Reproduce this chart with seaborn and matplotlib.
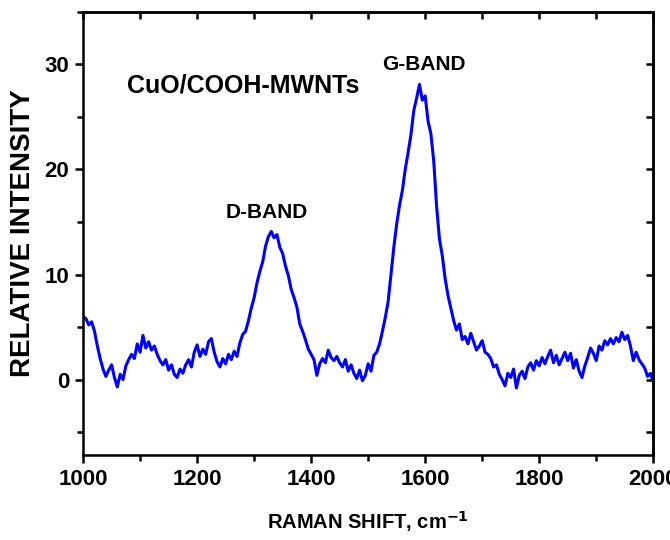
import numpy as np
import pandas as pd
import matplotlib
matplotlib.use("Agg")
import matplotlib.pyplot as plt
import seaborn as sns
from matplotlib.ticker import MultipleLocator

# Raman spectrum, every 5 cm-1 from 1000 to 2000
shift_start, shift_stop, shift_step = 1000, 2000, 5
intensity = [
    6.0, 5.8, 5.2, 5.5, 4.6, 3.2, 2.0, 1.0, 0.3, 0.9,      # 1000-1045
    1.4, 0.2, -0.7, 0.5, 0.0, 1.3, 1.9, 2.4, 2.0, 3.4,     # 1050-1095
    2.6, 4.2, 3.0, 3.6, 2.8, 3.2, 2.4, 1.8, 1.4, 1.9,      # 1100-1145
    0.9, 1.4, 0.5, 0.2, 1.0, 0.6, 1.4, 1.9, 1.2, 2.6,      # 1150-1195
    3.3, 2.2, 2.9, 2.4, 3.6, 3.9, 2.6, 1.7, 1.2, 2.0,      # 1200-1245
    1.5, 2.4, 1.9, 2.7, 2.2, 3.5, 4.3, 4.6, 5.6, 6.8,      # 1250-1295
    7.8, 9.2, 10.3, 11.2, 12.7, 13.6, 14.1, 13.5, 13.8, 12.6,  # 1300-1345
    12.0, 10.8, 9.9, 8.6, 7.8, 6.9, 5.3, 4.6, 3.8, 2.9,    # 1350-1395
    2.4, 1.9, 0.4, 1.5, 2.0, 1.6, 2.8, 2.1, 1.8, 2.2,      # 1400-1445
    1.6, 1.2, 1.9, 0.8, 1.4, 0.6, 0.1, 0.9, -0.1, 0.4,     # 1450-1495
    1.5, 0.8, 2.3, 2.6, 3.4, 4.6, 5.9, 7.4, 10.0, 12.6,    # 1500-1545
    14.8, 16.6, 18.0, 20.0, 21.6, 23.3, 25.6, 26.8, 28.1, 26.6,  # 1550-1595
    27.0, 24.6, 23.4, 20.8, 16.5, 13.4, 11.8, 9.6, 8.0, 6.8,     # 1600-1645
    5.6, 4.7, 5.3, 3.8, 4.1, 3.4, 4.4, 3.6, 2.8, 3.2,      # 1650-1695
    3.7, 2.6, 2.4, 2.0, 1.2, 1.4, 0.5, 0.0, -0.6, 0.6,     # 1700-1745
    0.2, 1.0, -0.8, 0.4, 0.8, 0.1, 1.2, 1.6, 0.9, 1.8,     # 1750-1795
    1.3, 2.1, 1.5, 2.2, 2.8, 1.6, 2.3, 1.4, 2.0, 2.6,      # 1800-1845
    1.8, 2.5, 1.1, 1.9, 0.8, 0.2, 1.3, 2.1, 3.0, 2.5,      # 1850-1895
    1.8, 3.2, 2.8, 3.7, 3.3, 3.9, 3.4, 4.0, 3.6, 4.5,      # 1900-1945
    3.8, 4.2, 3.2, 1.8, 2.6, 1.9, 1.5, 1.1, 0.3, 0.6,      # 1950-1995
    -0.2,                                                  # 2000
]
raman_shift = np.arange(shift_start, shift_stop + 1, shift_step)

x_ticks = [1000, 1200, 1400, 1600, 1800, 2000]
x_tick_labels = ["1000", "1200", "1400", "1600", "1800", "2000"]
y_ticks = [0, 10, 20, 30]

df = pd.DataFrame({"shift": raman_shift, "intensity": intensity})

sns.set_style("ticks")
plt.rcParams["font.family"] = ["Liberation Sans", "DejaVu Sans"]
plt.rcParams["font.weight"] = "bold"
plt.rcParams["text.color"] = "black"
plt.rcParams["xtick.color"] = "black"
plt.rcParams["ytick.color"] = "black"
plt.rcParams["axes.labelcolor"] = "black"
plt.rcParams["axes.edgecolor"] = "black"

fig = plt.figure(figsize=(6.7, 5.4), dpi=100)
ax = fig.add_axes([0.124, 0.157, 0.851, 0.821])

sns.lineplot(data=df, x="shift", y="intensity", ax=ax, color="#0000ff",
             linewidth=2.2)

ax.set_xlim(1000, 2000)
ax.set_ylim(-7.2, 35)
ax.set_xticks(x_ticks)
ax.set_xticklabels(x_tick_labels)
ax.set_yticks(y_ticks)
ax.xaxis.set_minor_locator(MultipleLocator(100))
ax.yaxis.set_minor_locator(MultipleLocator(5))
ax.tick_params(which="major", direction="out", length=6, width=1.8,
               labelsize=16, pad=4)
ax.tick_params(which="minor", direction="out", length=4, width=1.8)
for lab in ax.get_xticklabels() + ax.get_yticklabels():
    lab.set_fontweight("bold")

for side in ["top", "right", "left", "bottom"]:
    ax.spines[side].set_visible(True)
    ax.spines[side].set_linewidth(1.8)

# inward ticks on the top and right frame
top = ax.secondary_xaxis("top")
top.set_xticks(x_ticks)
top.xaxis.set_minor_locator(MultipleLocator(100))
top.tick_params(which="both", direction="in", length=5, width=1.8, labeltop=False)
top.spines["top"].set_linewidth(1.8)
right = ax.secondary_yaxis("right")
right.set_yticks(y_ticks)
right.yaxis.set_minor_locator(MultipleLocator(5))
right.tick_params(which="both", direction="in", length=5, width=1.8, labelright=False)
right.spines["right"].set_linewidth(1.8)

ax.set_xlabel("RAMAN SHIFT, cm$^{\\mathbf{-1}}$", fontsize=14.5, fontweight="bold",
              labelpad=14)
ax.set_ylabel("RELATIVE INTENSITY", fontsize=20, fontweight="bold", labelpad=6)

ax.text(1281, 28.0, "CuO/COOH-MWNTs", fontsize=18, fontweight="bold",
        ha="center", va="center")
ax.text(1323, 15.9, "D-BAND", fontsize=15, fontweight="bold", ha="center", va="center")
ax.text(1598, 30.0, "G-BAND", fontsize=15, fontweight="bold", ha="center", va="center")

fig.savefig("out.png", dpi=100)
